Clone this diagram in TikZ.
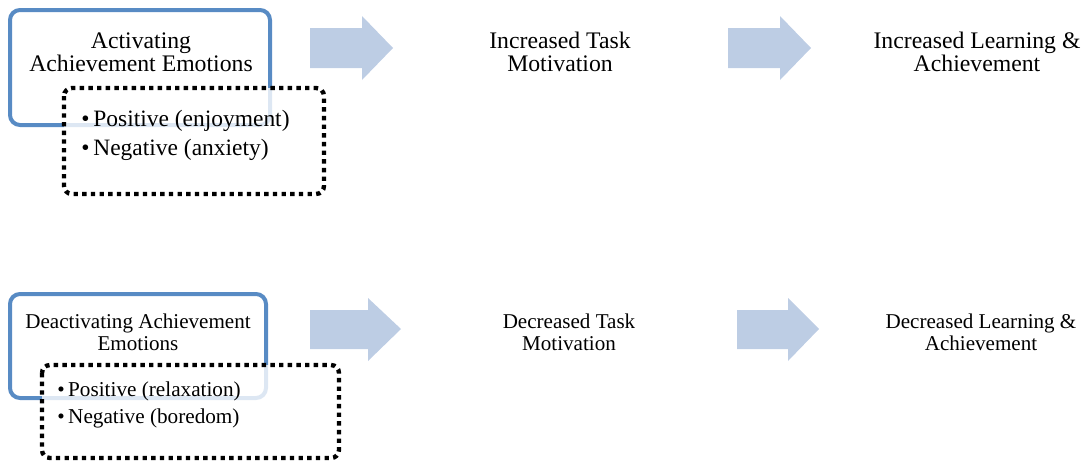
\documentclass[tikz,border=0pt]{standalone}
\usepackage{fontspec}
\setmainfont{Liberation Serif}
\usepackage{tikz}
\usetikzlibrary{positioning}

\definecolor{frameblue}{RGB}{88,139,196}
\definecolor{arrowblue}{RGB}{189,205,228}

\begin{document}
\begin{tikzpicture}[
    x=0.75pt, y=-0.75pt,
    emobox/.style={draw=frameblue, line width=3pt, rounded corners=7.5pt},
    listbox/.style={draw=black, line width=3.3pt, dash pattern=on 3.3pt off 3.2pt,
        rounded corners=6pt, fill=white, fill opacity=0.8},
    bigarrow/.style={fill=arrowblue},
    headA/.style={align=center, inner sep=0pt, font=\fontsize{17.8}{17.3}\selectfont},
    headB/.style={align=center, inner sep=0pt, font=\fontsize{15.8}{16.5}\selectfont},
    listA/.style={align=left, anchor=west, inner sep=0pt, font=\fontsize{17.6}{21.8}\selectfont},
    listB/.style={align=left, anchor=west, inner sep=0pt, font=\fontsize{15.9}{20.3}\selectfont}
]
\useasboundingbox (0,0) rectangle (1086,461);

% activating row
\draw[emobox] (10,10) rectangle (270,125);
\draw[listbox] (64,88) rectangle (324,194);
\node[headA] (actTitle) at (141,52) {Activating\\Achievement Emotions};
\node[listA] (actList) at (81,135) {\textbullet\,Positive (enjoyment)\\\textbullet\,Negative (anxiety)};
\fill[bigarrow] (310,28) -- (362,28) -- (362,16) -- (393,48) -- (362,80) -- (362,68) -- (310,68) -- cycle;
\node[headA] (incTask) at (560,52) {Increased Task\\Motivation};
\fill[bigarrow] (728,28) -- (780,28) -- (780,16) -- (811,48) -- (780,80) -- (780,68) -- (728,68) -- cycle;
\node[headA] (incLearn) at (977,52) {Increased Learning \&\\Achievement};

% deactivating row
\draw[emobox] (10,294) rectangle (266,398);
\draw[listbox] (42,365) rectangle (339,458);
\node[headB] (deaTitle) at (138,332) {Deactivating Achievement\\Emotions};
\node[listB] (deaList) at (57,405) {\textbullet\,Positive (relaxation)\\\textbullet\,Negative (boredom)};
\fill[bigarrow] (310,310) -- (368,310) -- (368,298) -- (401,329) -- (368,361) -- (368,349) -- (310,349) -- cycle;
\node[headB] (decTask) at (569,332) {Decreased Task\\Motivation};
\fill[bigarrow] (737,310) -- (788,310) -- (788,298) -- (819,329) -- (788,361) -- (788,349) -- (737,349) -- cycle;
\node[headB] (decLearn) at (981,332) {Decreased Learning \&\\Achievement};
\end{tikzpicture}
\end{document}
